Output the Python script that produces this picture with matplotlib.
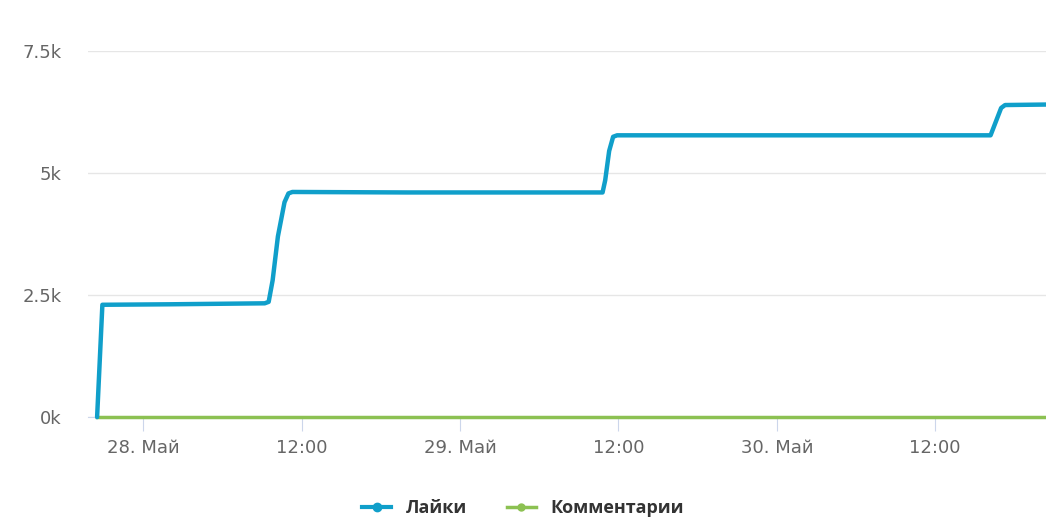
import matplotlib
matplotlib.use('Agg')
import matplotlib.pyplot as plt
from matplotlib.lines import Line2D

plt.rcParams['font.family'] = ['DejaVu Sans']

# hours counted from 28 May 00:00
likes_hours = [-3.5, -3.1, 2.0, 9.2, 9.5, 9.8, 10.2, 10.7, 11.0, 11.3, 20.0, 34.8,
               35.0, 35.3, 35.6, 35.9, 50.0, 64.2, 64.6, 65.0, 65.3, 68.4]
likes = [0, 2300, 2310, 2330, 2360, 2800, 3700, 4400, 4580, 4610, 4600, 4600,
         4850, 5450, 5740, 5770, 5770, 5770, 6050, 6330, 6390, 6400]

comment_hours = [-3.5, 68.4]
comments = [0, 0]

tick_hours = [0, 12, 24, 36, 48, 60]
tick_labels = ['28. Май', '12:00', '29. Май', '12:00', '30. Май', '12:00']
y_ticks = [0, 2500, 5000, 7500]
y_labels = ['0k', '2.5k', '5k', '7.5k']

blue = '#109fca'
green = '#8cc152'
grey = '#666666'

fig = plt.figure(figsize=(10.46, 5.24), dpi=100)
ax = fig.add_axes([0.084, 0.204, 0.916, 0.699])

ax.plot(comment_hours, comments, color=green, lw=2.5, zorder=3, clip_on=False)
ax.plot(likes_hours, likes, color=blue, lw=3.2, zorder=4,
        solid_joinstyle='round', solid_capstyle='round', clip_on=False)

ax.set_xlim(-4.2, 68.4)
ax.set_ylim(0, 7500)

ax.set_yticks(y_ticks)
ax.set_yticklabels(y_labels)
ax.set_xticks(tick_hours)
ax.set_xticklabels(tick_labels)

ax.grid(axis='y', color='#e6e6e6', lw=1)
ax.set_axisbelow(True)
for side in ['top', 'right', 'left']:
    ax.spines[side].set_visible(False)
ax.spines['bottom'].set_color('#ccd6eb')
ax.tick_params(axis='y', length=0, pad=19, labelsize=13, labelcolor=grey)
ax.tick_params(axis='x', length=10, color='#ccd6eb', pad=6, labelsize=13, labelcolor=grey)

handles = [
    Line2D([0], [0], color=blue, lw=3, marker='o', markersize=6),
    Line2D([0], [0], color=green, lw=2.5, marker='o', markersize=5),
]
leg = fig.legend(handles, ['Лайки', 'Комментарии'], loc='center', bbox_to_anchor=(0.5, 0.03),
                 ncol=2, frameon=False, handlelength=1.6, columnspacing=2.2,
                 prop={'family': 'Open Sans', 'weight': 'bold', 'size': 13})
for t in leg.get_texts():
    t.set_color('#333333')

fig.savefig('out.png', dpi=100)
